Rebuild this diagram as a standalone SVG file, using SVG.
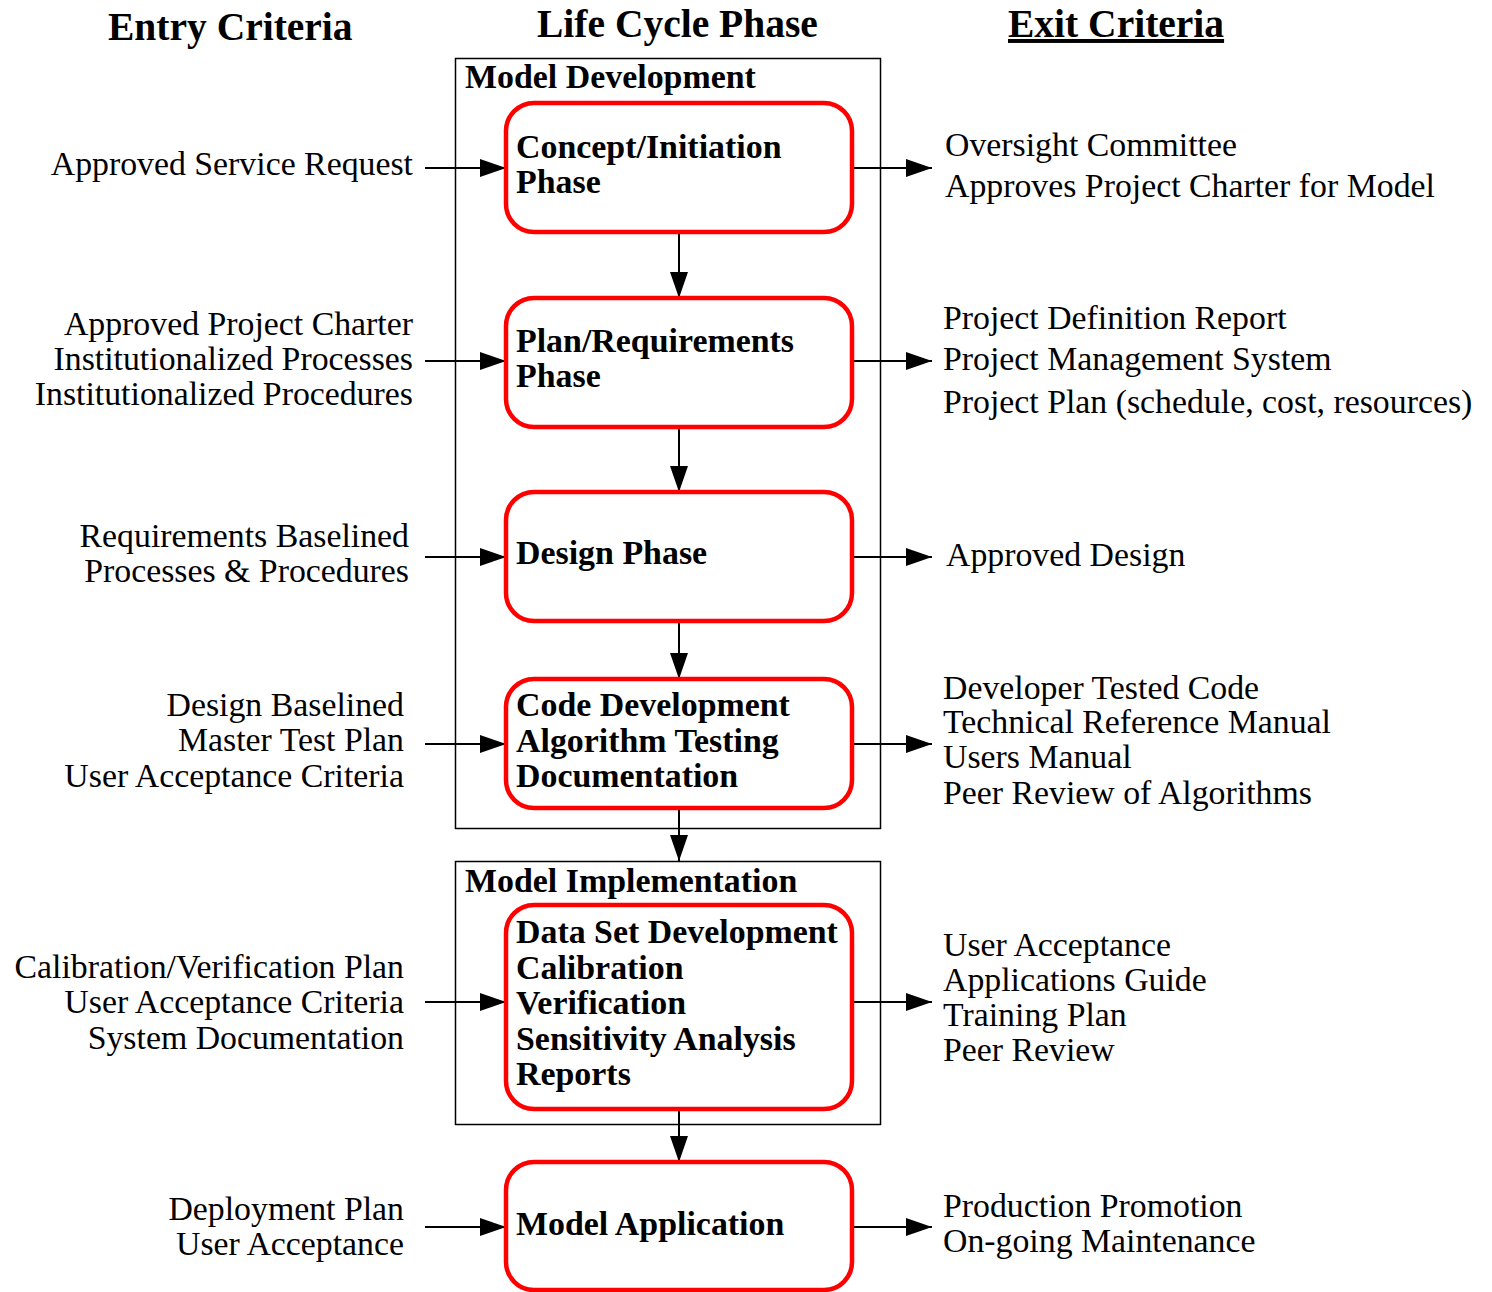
<svg xmlns="http://www.w3.org/2000/svg" width="1492" height="1292" viewBox="0 0 1492 1292">
<defs>
<marker id="ah" markerWidth="26" markerHeight="18" refX="26" refY="9" orient="auto" markerUnits="userSpaceOnUse"><path d="M0,0 L26,9 L0,18 Z" fill="#000"/></marker>
<style>
text{font-family:"Liberation Serif","Times New Roman",serif;fill:#000}
.h{font-size:39.5px;font-weight:bold}
.t{font-size:33.8px}
.b{font-size:33.9px;font-weight:bold}
.l{text-anchor:end}
.phase{fill:#fff;stroke:#ff0000;stroke-width:4.5}
.grp{fill:none;stroke:#000;stroke-width:1.5}
.c{stroke:#000;stroke-width:2;fill:none}
</style>
</defs>
<rect width="1492" height="1292" fill="#fff"/>
<g id="headings">
<text class="h" x="108" y="40">Entry Criteria</text>
<text class="h" x="537" y="37">Life Cycle Phase</text>
<text class="h" x="1008" y="37" text-decoration="underline">Exit Criteria</text>
</g>
<g id="model-development">
<rect class="grp" x="455.5" y="58.5" width="425" height="770"/>
<text class="b" x="465" y="88">Model Development</text>
</g>
<g id="model-implementation">
<rect class="grp" x="455.5" y="861.5" width="425" height="263"/>
<text class="b" x="465" y="892">Model Implementation</text>
</g>
<g id="connectors">
<line class="c" x1="679" y1="232" x2="679" y2="298" marker-end="url(#ah)"/>
<line class="c" x1="679" y1="427" x2="679" y2="492" marker-end="url(#ah)"/>
<line class="c" x1="679" y1="621" x2="679" y2="679" marker-end="url(#ah)"/>
<line class="c" x1="679" y1="808" x2="679" y2="861" marker-end="url(#ah)"/>
<line class="c" x1="679" y1="1104" x2="679" y2="1162" marker-end="url(#ah)"/>
<line class="c" x1="425" y1="168" x2="506" y2="168" marker-end="url(#ah)"/>
<line class="c" x1="425" y1="361" x2="506" y2="361" marker-end="url(#ah)"/>
<line class="c" x1="425" y1="557" x2="506" y2="557" marker-end="url(#ah)"/>
<line class="c" x1="425" y1="744" x2="506" y2="744" marker-end="url(#ah)"/>
<line class="c" x1="425" y1="1002" x2="506" y2="1002" marker-end="url(#ah)"/>
<line class="c" x1="425" y1="1227" x2="506" y2="1227" marker-end="url(#ah)"/>
<line class="c" x1="852" y1="168" x2="932" y2="168" marker-end="url(#ah)"/>
<line class="c" x1="852" y1="361" x2="932" y2="361" marker-end="url(#ah)"/>
<line class="c" x1="852" y1="557" x2="932" y2="557" marker-end="url(#ah)"/>
<line class="c" x1="852" y1="744" x2="932" y2="744" marker-end="url(#ah)"/>
<line class="c" x1="852" y1="1002" x2="932" y2="1002" marker-end="url(#ah)"/>
<line class="c" x1="852" y1="1227" x2="932" y2="1227" marker-end="url(#ah)"/>
</g>
<g id="concept-phase">
<rect class="phase" x="506" y="103" width="346" height="129" rx="28"/>
<text class="b" x="516" y="158">Concept/Initiation</text>
<text class="b" x="516" y="193">Phase</text>
</g>
<g id="plan-phase">
<rect class="phase" x="506" y="298" width="346" height="129" rx="28"/>
<text class="b" x="516" y="352">Plan/Requirements</text>
<text class="b" x="516" y="387">Phase</text>
</g>
<g id="design-phase">
<rect class="phase" x="506" y="492" width="346" height="129" rx="28"/>
<text class="b" x="516" y="564">Design Phase</text>
</g>
<g id="code-phase">
<rect class="phase" x="506" y="679" width="346" height="129" rx="28"/>
<text class="b" x="516" y="716">Code Development</text>
<text class="b" x="516" y="752">Algorithm Testing</text>
<text class="b" x="516" y="787">Documentation</text>
</g>
<g id="implementation-phase">
<rect class="phase" x="506" y="905" width="346" height="204" rx="28"/>
<text class="b" x="516" y="943">Data Set Development</text>
<text class="b" x="516" y="979">Calibration</text>
<text class="b" x="516" y="1014">Verification</text>
<text class="b" x="516" y="1050">Sensitivity Analysis</text>
<text class="b" x="516" y="1085">Reports</text>
</g>
<g id="application-phase">
<rect class="phase" x="506" y="1162" width="346" height="128" rx="28"/>
<text class="b" x="516" y="1235">Model Application</text>
</g>
<g id="entry-criteria">
<text class="t l" x="413" y="175">Approved Service Request</text>
<text class="t l" x="413" y="335">Approved Project Charter</text>
<text class="t l" x="413" y="370">Institutionalized Processes</text>
<text class="t l" x="413" y="405">Institutionalized Procedures</text>
<text class="t l" x="409" y="547">Requirements Baselined</text>
<text class="t l" x="409" y="582">Processes &amp; Procedures</text>
<text class="t l" x="404" y="716">Design Baselined</text>
<text class="t l" x="404" y="751">Master Test Plan</text>
<text class="t l" x="404" y="787">User Acceptance Criteria</text>
<text class="t l" x="404" y="978">Calibration/Verification Plan</text>
<text class="t l" x="404" y="1013">User Acceptance Criteria</text>
<text class="t l" x="404" y="1049">System Documentation</text>
<text class="t l" x="404" y="1220">Deployment Plan</text>
<text class="t l" x="404" y="1255">User Acceptance</text>
</g>
<g id="exit-criteria">
<text class="t" x="945" y="156">Oversight Committee</text>
<text class="t" x="945" y="197">Approves Project Charter for Model</text>
<text class="t" x="943" y="329">Project Definition Report</text>
<text class="t" x="943" y="370">Project Management System</text>
<text class="t" x="943" y="413">Project Plan (schedule, cost, resources)</text>
<text class="t" x="946" y="566">Approved Design</text>
<text class="t" x="943" y="699">Developer Tested Code</text>
<text class="t" x="943" y="733">Technical Reference Manual</text>
<text class="t" x="943" y="768">Users Manual</text>
<text class="t" x="943" y="804">Peer Review of Algorithms</text>
<text class="t" x="943" y="956">User Acceptance</text>
<text class="t" x="943" y="991">Applications Guide</text>
<text class="t" x="943" y="1026">Training Plan</text>
<text class="t" x="943" y="1061">Peer Review</text>
<text class="t" x="943" y="1217">Production Promotion</text>
<text class="t" x="943" y="1252">On-going Maintenance</text>
</g>
</svg>
